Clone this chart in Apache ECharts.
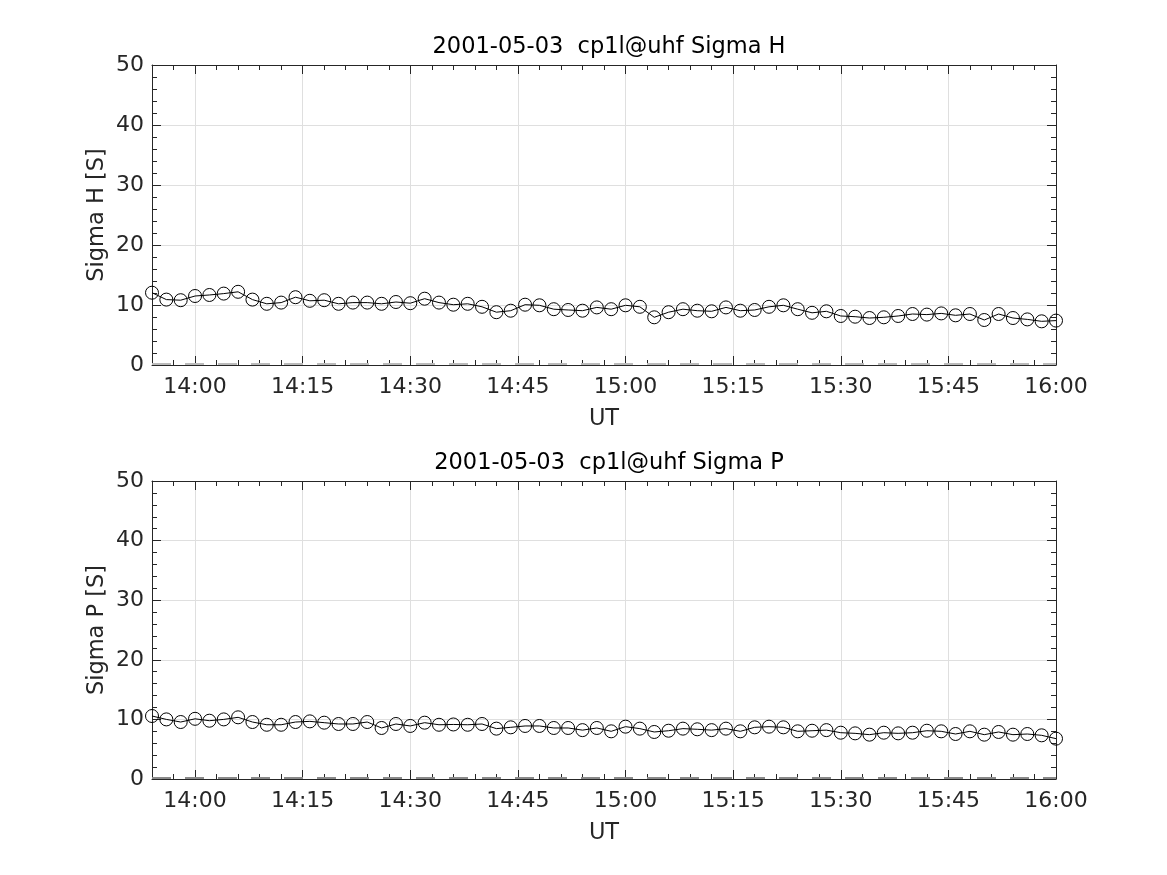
<!DOCTYPE html>
<html>
<head>
<meta charset="utf-8">
<script src="https://cdn.jsdelivr.net/npm/echarts@6/dist/echarts.min.js"></script>
<style>html,body{margin:0;padding:0;background:#fff}#c{width:1167px;height:875px}</style>
</head>
<body>
<div id="c"></div>
<script>
const times = ["13:54","13:56","13:58",
"14:00","14:02","14:04","14:06","14:08","14:10","14:12","14:14","14:16","14:18","14:20","14:22","14:24","14:26","14:28",
"14:30","14:32","14:34","14:36","14:38","14:40","14:42","14:44","14:46","14:48","14:50","14:52","14:54","14:56","14:58",
"15:00","15:02","15:04","15:06","15:08","15:10","15:12","15:14","15:16","15:18","15:20","15:22","15:24","15:26","15:28",
"15:30","15:32","15:34","15:36","15:38","15:40","15:42","15:44","15:46","15:48","15:50","15:52","15:54","15:56","15:58",
"16:00"];
const sigmaH = [12.05,10.9,10.8,11.5,11.67,11.9,12.2,10.9,10.2,10.4,11.3,10.7,10.8,10.2,10.4,10.4,10.2,10.5,10.3,11.05,10.4,10.05,
10.2,9.7,8.8,9.05,10.05,9.95,9.3,9.17,9.05,9.6,9.3,9.95,9.7,7.95,8.8,9.3,9.05,8.95,9.6,9.05,9.17,
9.7,9.95,9.3,8.7,8.95,8.17,8.05,7.83,7.95,8.17,8.5,8.4,8.6,8.28,8.5,7.5,8.5,7.83,7.6,7.28,7.4];
const sigmaP = [10.57,10.0,9.56,10.1,9.78,10.0,10.35,9.56,9.1,9.1,9.56,9.67,9.45,9.23,9.23,9.56,8.56,9.23,8.9,9.45,9.1,9.15,
9.1,9.23,8.45,8.67,8.9,8.9,8.56,8.56,8.2,8.56,8.0,8.78,8.45,7.89,8.1,8.45,8.34,8.2,8.45,8.0,8.67,
8.78,8.67,8.0,8.1,8.2,7.77,7.66,7.44,7.77,7.66,7.77,8.1,8.0,7.55,8.0,7.44,7.89,7.44,7.55,7.33,6.77];
const xTickLabels = ["14:00","14:15","14:30","14:45","15:00","15:15","15:30","15:45","16:00"];
const yTicks = [0,10,20,30,40,50];
const titles = ["2001-05-03  cp1l@uhf Sigma H","2001-05-03  cp1l@uhf Sigma P"];
const yNames = ["Sigma H [S]","Sigma P [S]"];
const baseLevel = 0.2;

function toMin(s){const p=s.split(':');return (+p[0])*60+(+p[1]);}
function fmt(v){const h=Math.floor(v/60), m=v%60;return h+':'+(m<10?'0':'')+m;}
const xMin = toMin(times[0]), xMax = toMin(times[times.length-1]);
const majors = xTickLabels.map(toMin);
const FONT = 'DejaVu Sans';
const AX = '#262626';
const TICKFS = 22, NAMEFS = 22.5, TITLEFS = 22.5;

const grids = [
  {left:152, top:65, width:904, height:300},
  {left:152, top:481, width:904, height:298}
];
const xAxes = [], yAxes = [], series = [];
[sigmaH, sigmaP].forEach((vals, g) => {
  const common = {type:'value', gridIndex:g, min:xMin, max:xMax};
  xAxes.push(Object.assign({}, common, {
    position:'bottom', interval:3,
    axisLine:{show:true, lineStyle:{color:AX, width:1}},
    axisTick:{show:true, inside:true, length:5, lineStyle:{color:AX, width:1}},
    axisLabel:{show:true, margin:11, fontSize:TICKFS, color:AX, fontFamily:FONT,
      formatter:(v)=> (majors.indexOf(v)>=0 ? fmt(v) : '')},
    splitLine:{show:false},
    name:'UT', nameLocation:'middle', nameGap:43, nameMoveOverlap:false,
    nameTextStyle:{fontSize:NAMEFS, color:AX, fontFamily:FONT}
  }));
  xAxes.push(Object.assign({}, common, {
    position:'bottom',
    axisLine:{show:false},
    axisTick:{show:true, inside:true, length:9, customValues:majors, lineStyle:{color:AX, width:1}},
    axisLabel:{show:false, customValues:majors},
    splitLine:{show:true, lineStyle:{color:'#dfdfdf', width:1}}
  }));
  xAxes.push(Object.assign({}, common, {
    position:'top', interval:3,
    axisLine:{show:true, lineStyle:{color:AX, width:1}},
    axisTick:{show:true, inside:true, length:5, lineStyle:{color:AX, width:1}},
    axisLabel:{show:false}, splitLine:{show:false}
  }));
  xAxes.push(Object.assign({}, common, {
    position:'top',
    axisLine:{show:false},
    axisTick:{show:true, inside:true, length:9, customValues:majors, lineStyle:{color:AX, width:1}},
    axisLabel:{show:false, customValues:majors}, splitLine:{show:false}
  }));
  const yc = {type:'value', gridIndex:g, min:yTicks[0], max:yTicks[yTicks.length-1], interval:10};
  yAxes.push(Object.assign({}, yc, {
    position:'left',
    axisLine:{show:true, lineStyle:{color:AX, width:1}},
    axisTick:{show:true, inside:true, length:9, lineStyle:{color:AX}},
    minorTick:{show:true, splitNumber:5, length:5, lineStyle:{color:AX}},
    axisLabel:{show:true, margin:8, fontSize:TICKFS, color:AX, fontFamily:FONT},
    splitLine:{show:true, lineStyle:{color:'#dfdfdf'}},
    name:yNames[g], nameLocation:'middle', nameGap:43, nameRotate:90, nameMoveOverlap:false,
    nameTextStyle:{fontSize:NAMEFS, color:AX, fontFamily:FONT}
  }));
  yAxes.push(Object.assign({}, yc, {
    position:'right',
    axisLine:{show:true, lineStyle:{color:AX, width:1}},
    axisTick:{show:true, inside:true, length:9, lineStyle:{color:AX}},
    minorTick:{show:true, splitNumber:5, length:5, lineStyle:{color:AX}},
    axisLabel:{show:false}, splitLine:{show:false}
  }));
  series.push({
    type:'line', xAxisIndex:4*g, yAxisIndex:2*g,
    data: times.map((t,i)=>[toMin(t), vals[i]]),
    symbol:'circle', symbolSize:13,
    itemStyle:{color:'rgba(0,0,0,0)', borderColor:'#000', borderWidth:1},
    lineStyle:{color:'#000', width:1},
    emphasis:{disabled:true},
    markLine:{silent:true, symbol:'none', label:{show:false},
      lineStyle:{color: g===0 ? '#bbbbbb' : '#8a8a8a', width:2, type:[19,14]},
      data:[{yAxis:baseLevel}]}
  });
});

const chart = echarts.init(document.getElementById('c'), null, {renderer:'canvas'});
chart.setOption({
  animation:false,
  backgroundColor:'#fff',
  title: titles.map((t,i)=>({text:t, left:604, textAlign:'center', top: i===0 ? 31 : 447,
    textStyle:{fontSize:TITLEFS, fontWeight:'normal', color:'#000', fontFamily:FONT}})),
  grid: grids,
  xAxis: xAxes,
  yAxis: yAxes,
  series: series
});
</script>
</body>
</html>
